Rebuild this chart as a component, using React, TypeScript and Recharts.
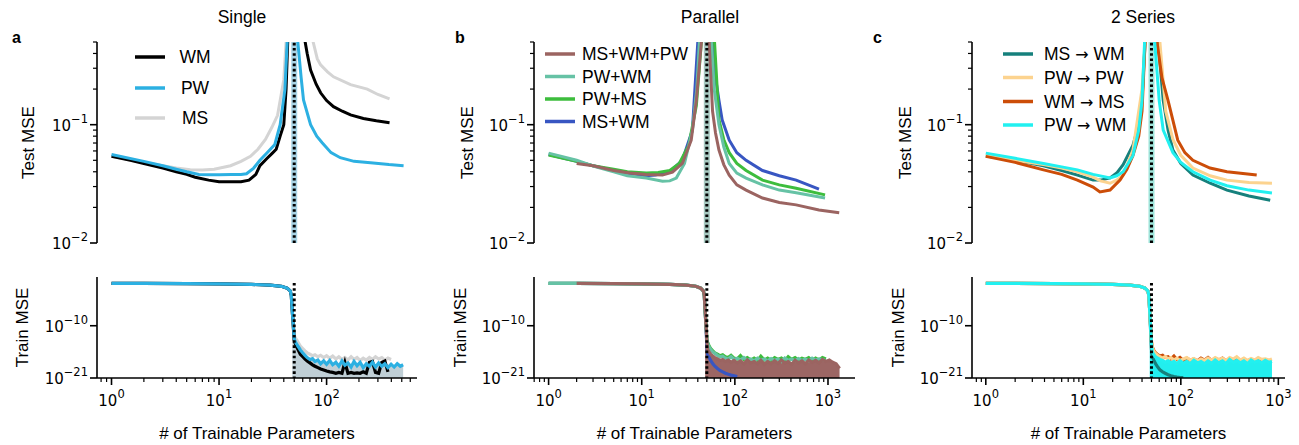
import React from "react";
import { Area, ComposedChart, Line, ReferenceLine, XAxis, YAxis } from "recharts";

type Pt = [number, number];

const FONT = '"Liberation Sans", Arial, Helvetica, sans-serif';
const MATH_FONT = '"DejaVu Sans", sans-serif';

// ---------- shared ----------
const testYTicks = [0.01, 0.02, 0.03, 0.04, 0.05, 0.06, 0.07, 0.08, 0.09, 0.1, 0.2, 0.3, 0.4, 0.5];
const trainYTicks = [1e-21, 1e-10];
const xTicksA = [0.8, 0.9, 1, 2, 3, 4, 5, 6, 7, 8, 9, 10, 20, 30, 40, 50, 60, 70, 80, 90, 100, 200, 300, 400, 500, 600];
const xTicksB = [0.7, 0.8, 0.9, 1, 2, 3, 4, 5, 6, 7, 8, 9, 10, 20, 30, 40, 50, 60, 70, 80, 90, 100, 200, 300, 400, 500, 600, 700, 800, 900, 1000];
const xTicksC = [0.8, 0.9, 1, 2, 3, 4, 5, 6, 7, 8, 9, 10, 20, 30, 40, 50, 60, 70, 80, 90, 100, 200, 300, 400, 500, 600, 700, 800, 900, 1000];
const threshold = 50;

// underparameterised part of every train curve
const trainPre: Pt[] = [[1, 0.085], [2, 0.08], [5, 0.072], [10, 0.065], [20, 0.05], [30, 0.035], [38, 0.02], [43, 0.008], [46, 0.002], [47, 2e-4], [48, 1e-7]];

// x of the train samples past the threshold
const trainXA = [50, 51, 53, 55, 57, 60, 63, 66, 70, 74, 78, 83, 88, 94, 100, 107, 114, 122, 130, 139, 148, 158, 169, 180, 192, 205, 219, 234, 250, 267, 285, 305, 326, 348, 372, 398, 425, 454, 485, 515];
const trainXB = [50, 51, 53, 55, 58, 61, 65, 69, 74, 79, 85, 91, 98, 106, 115, 125, 136, 148, 161, 175, 190, 207, 225, 245, 267, 290, 316, 344, 374, 407, 443, 482, 525, 571, 621, 676, 736, 801, 872, 949, 1033, 1124, 1223, 1331];
const trainXC = [50, 51, 53, 55, 58, 61, 65, 69, 74, 79, 85, 91, 98, 106, 115, 125, 136, 148, 161, 175, 190, 207, 225, 245, 267, 290, 316, 344, 374, 407, 443, 482, 525, 571, 621, 676, 736, 801, 860];

// ---------- a: Single ----------
const testWM_a: Pt[] = [[1, 0.054], [1.5, 0.05], [2, 0.047], [3, 0.043], [4, 0.04], [5, 0.038], [6, 0.036], [8, 0.034], [10, 0.033], [13, 0.033], [16, 0.033], [19, 0.034], [22, 0.038], [24, 0.045], [28, 0.052], [31, 0.057], [34, 0.062], [37, 0.08], [40, 0.1], [42, 0.2], [43.5, 0.5], [50, 6], [61, 0.6], [66, 0.4], [71, 0.29], [80, 0.22], [88, 0.186], [100, 0.16], [116, 0.142], [140, 0.13], [167, 0.121], [220, 0.113], [290, 0.108], [385, 0.104]];
const testPW_a: Pt[] = [[1, 0.056], [2, 0.049], [3, 0.045], [4, 0.042], [5, 0.04], [6.5, 0.038], [8, 0.0378], [10, 0.0378], [13, 0.038], [16, 0.038], [18, 0.0385], [21, 0.043], [24, 0.05], [28, 0.058], [33, 0.068], [37, 0.1], [41, 0.2], [43, 0.5], [50, 6], [54, 0.5], [58, 0.25], [61, 0.162], [71, 0.1], [81, 0.08], [91, 0.0705], [110, 0.058], [134, 0.0526], [180, 0.049], [256, 0.0477], [380, 0.046], [520, 0.045]];
const testMS_a: Pt[] = [[1, 0.054], [2, 0.048], [3, 0.045], [4, 0.043], [5.4, 0.0416], [7, 0.0415], [9, 0.042], [12.8, 0.045], [16, 0.049], [19.6, 0.054], [23, 0.062], [27, 0.075], [31, 0.095], [35, 0.12], [40, 0.24], [42, 0.5], [50, 6], [70, 0.6], [75, 0.5], [82, 0.36], [88, 0.32], [102, 0.28], [116, 0.254], [167, 0.218], [239, 0.2], [300, 0.18], [385, 0.165]];
const trainWM_a = [1e-13, 2e-14, 3e-15, 5e-16, 1e-16, 3e-17, 1e-17, 4e-18, 1.5e-18, 6e-19, 3e-19, 1.5e-19, 8e-20, 5e-20, 3e-20, 2e-20, 1.5e-20, 1e-20, 1.5e-20, 1e-20, 2e-18, 1e-20, 1.5e-20, 1e-20, 1.2e-20, 1e-20, 2e-20, 1e-20, 2e-18, 3e-18, 1.5e-20, 1e-20, 2e-18, 4e-18, 2e-20];
const trainPW_a = [2e-13, 5e-14, 1e-14, 3e-15, 8e-16, 2e-16, 6e-17, 2e-17, 8e-18, 1.2e-17, 3e-18, 6e-18, 1e-18, 4e-18, 8e-19, 5e-18, 6e-19, 2e-18, 3e-19, 4e-18, 5e-19, 1.5e-18, 2e-19, 3e-18, 4e-19, 2e-18, 1.5e-19, 1e-18, 3e-19, 2e-18, 2e-19, 1.5e-18, 3e-19, 1e-18, 1.5e-19, 8e-19, 2e-19, 1e-18, 3e-19, 6e-19];
const trainMS_a = [1e-12, 3e-13, 8e-14, 2e-14, 5e-15, 1.5e-15, 5e-16, 2e-16, 1e-16, 5e-17, 8e-17, 3e-17, 6e-17, 2e-17, 5e-17, 1.5e-17, 4e-17, 1e-17, 3e-17, 8e-18, 2e-17, 6e-18, 3e-17, 8e-18, 2e-17, 5e-18, 1.5e-17, 6e-18, 2e-17, 8e-18, 3e-17, 1e-17, 2e-17, 6e-18, 1.5e-17, 8e-18];

// ---------- b: Parallel ----------
const testMWP_b: Pt[] = [[2, 0.047], [3, 0.045], [5, 0.041], [7.4, 0.039], [11, 0.038], [16.7, 0.0375], [21.4, 0.0397], [27.3, 0.047], [34, 0.074], [38.6, 0.16], [43.7, 0.5], [50, 6], [53, 0.5], [57.6, 0.13], [62, 0.085], [67.5, 0.061], [76, 0.046], [87, 0.0375], [105, 0.031], [132, 0.028], [198, 0.024], [300, 0.022], [455, 0.021], [800, 0.019], [1320, 0.018]];
const testPWWM_b: Pt[] = [[1, 0.0575], [2, 0.05], [3.2, 0.044], [5, 0.04], [7, 0.037], [11.2, 0.0354], [16.7, 0.0333], [20, 0.0335], [23.5, 0.0354], [28.8, 0.047], [35, 0.09], [39, 0.2], [41.6, 0.5], [50, 6], [56, 0.5], [60, 0.2], [67.5, 0.1], [76, 0.065], [87, 0.047], [105, 0.039], [132, 0.0354], [198, 0.031], [300, 0.028], [455, 0.0266], [930, 0.024]];
const testPWMS_b: Pt[] = [[1, 0.0553], [2, 0.049], [3, 0.045], [5, 0.042], [7, 0.04], [11.2, 0.039], [15, 0.0395], [20, 0.041], [25.3, 0.047], [32, 0.067], [38.6, 0.145], [43.7, 0.5], [50, 6], [60.5, 0.5], [67.5, 0.11], [76, 0.075], [87, 0.058], [105, 0.047], [132, 0.041], [198, 0.034], [300, 0.031], [455, 0.029], [930, 0.0255]];
const testMSWM_b: Pt[] = [[1, 0.056], [2, 0.049], [3, 0.045], [5, 0.041], [7, 0.039], [11, 0.037], [14, 0.0375], [20, 0.04], [27.3, 0.05], [35, 0.09], [40, 0.5], [50, 6], [57.6, 0.5], [62, 0.25], [67.5, 0.16], [73, 0.11], [87, 0.074], [105, 0.058], [132, 0.05], [198, 0.041], [300, 0.037], [455, 0.034], [800, 0.0285]];
const trainMWP_b = [1e-13, 1e-15, 3e-16, 1e-16, 4e-17, 2e-17, 1e-17, 5e-18, 8e-18, 3e-18, 6e-18, 2e-18, 5e-18, 1.5e-18, 4e-18, 1e-18, 6e-18, 1.5e-18, 3e-18, 1e-18, 5e-18, 8e-19, 3e-18, 1e-18, 4e-18, 1.2e-18, 6e-18, 1.5e-18, 3e-18, 8e-19, 5e-18, 1.5e-18, 4e-18, 1e-18, 6e-18, 2e-18, 5e-18, 1.5e-18, 8e-18, 3e-18, 6e-18, 2e-18, 1e-18, 1e-19];
const trainPWWM_b = [2e-13, 2e-14, 3e-15, 1e-15, 3e-16, 1.5e-16, 6e-17, 3e-17, 4e-17, 1.5e-17, 1e-17, 3e-17, 8e-18, 1.5e-17, 6e-18, 2e-17, 5e-18, 1e-17, 4e-18, 1.5e-17, 6e-18, 1e-17, 4e-18, 1.2e-17, 5e-18, 1e-17, 3e-18, 1.5e-17, 5e-18, 1e-17, 4e-18, 1.2e-17, 5e-18, 1e-17, 4e-18, 1.5e-17, 6e-18, 1e-17, 8e-18, 5e-18];
const trainPWMS_b = [3e-13, 3e-14, 5e-15, 1.5e-15, 5e-16, 2e-16, 1e-16, 5e-17, 8e-17, 3e-17, 2e-17, 6e-17, 1.5e-17, 1e-17, 5e-17, 8e-18, 2e-17, 6e-18, 1.5e-17, 5e-18, 4e-17, 6e-18, 1.5e-17, 5e-18, 2e-17, 8e-18, 1.5e-17, 4e-18, 3e-17, 8e-18, 2e-17, 6e-18, 1.5e-17, 8e-18, 2e-17, 5e-18, 1.5e-17, 6e-18, 2e-17, 1e-17];
// visible part only: beyond ~100 it sits under the brown band
const trainMSWM_b = [1e-14, 1e-16, 2e-17, 5e-18, 1e-18, 3e-19, 1e-19, 4e-20, 2e-20, 1e-20, 6e-21, 4e-21, 3e-21, 2e-21];

// ---------- c: 2 Series ----------
const testMSWM_c: Pt[] = [[1, 0.0543], [2, 0.05], [3.9, 0.045], [6, 0.041], [8.7, 0.0375], [12.6, 0.034], [15, 0.034], [18.8, 0.0355], [22, 0.039], [25.6, 0.046], [32.3, 0.067], [37, 0.1], [40, 0.16], [43, 0.5], [50, 6], [58.5, 0.5], [66, 0.16], [74, 0.09], [83, 0.061], [100, 0.047], [133, 0.0375], [200, 0.032], [297, 0.028], [500, 0.025], [825, 0.023]];
const testPWPW_c: Pt[] = [[1, 0.056], [2, 0.05], [3.9, 0.046], [6, 0.043], [8.7, 0.04], [12.6, 0.036], [15, 0.0335], [18.8, 0.032], [22, 0.034], [25.6, 0.0375], [32.3, 0.061], [40, 0.2], [43, 0.5], [50, 6], [61, 0.5], [70, 0.13], [83, 0.075], [100, 0.055], [133, 0.043], [200, 0.037], [297, 0.034], [500, 0.0325], [860, 0.032]];
const testWMMS_c: Pt[] = [[1, 0.054], [2, 0.048], [3.9, 0.0415], [6, 0.038], [8.7, 0.034], [12.6, 0.0297], [14.8, 0.027], [18.8, 0.028], [23.8, 0.034], [28, 0.042], [32.3, 0.055], [37, 0.08], [40, 0.13], [43, 0.5], [50, 6], [57, 0.5], [64, 0.25], [74, 0.16], [93, 0.074], [110, 0.058], [133, 0.05], [199, 0.043], [297, 0.04], [600, 0.0375]];
const testPWWM_c: Pt[] = [[1, 0.0575], [2, 0.052], [3.9, 0.047], [6, 0.044], [8.7, 0.0415], [12.6, 0.038], [18.8, 0.0355], [22, 0.037], [25.6, 0.04], [32.3, 0.055], [37, 0.09], [40, 0.16], [42.5, 0.5], [50, 6], [54, 0.5], [60, 0.16], [66, 0.09], [83, 0.058], [100, 0.048], [133, 0.04], [200, 0.034], [297, 0.0305], [500, 0.028], [860, 0.0265]];
// visible part only: beyond ~100 it sits under the cyan band
const trainMSWM_c = [1e-15, 3e-17, 5e-18, 1e-18, 2e-19, 5e-20, 2e-20, 1e-20, 5e-21, 3e-21, 2e-21, 1.5e-21, 1.2e-21, 1.2e-21];
const trainPWPW_c = [3e-14, 2e-15, 4e-16, 1.5e-16, 6e-17, 3e-17, 1.5e-17, 3e-17, 1e-17, 2e-17, 6e-18, 1.5e-17, 5e-18, 1e-17, 2e-17, 6e-18, 1.2e-17, 4e-18, 1e-17, 5e-18, 1.5e-17, 6e-18, 2e-17, 8e-18, 1.5e-17, 5e-18, 2e-17, 1e-17, 3e-17, 6e-18, 1.5e-17, 5e-18, 1.2e-17, 6e-18, 2e-17, 8e-18, 1e-17, 6e-18, 1e-17];
const trainWMMS_c = [5e-14, 3e-15, 6e-16, 2e-16, 8e-17, 4e-17, 6e-17, 2e-17, 3e-17, 1e-17, 4e-17, 8e-18, 2e-17, 5e-18, 1.5e-17, 6e-18, 1e-17, 4e-18, 1.5e-17, 6e-18, 2e-17, 5e-18, 1.2e-17, 6e-18, 1.5e-17, 4e-18, 1e-17, 6e-18, 1.5e-17, 5e-18, 1e-17, 4e-18, 8e-18, 5e-18, 6e-18, 4e-18];
const trainPWWM_c = [1e-14, 3e-16, 8e-17, 3e-17, 1.5e-17, 8e-18, 5e-18, 2e-18, 4e-18, 1.5e-18, 3e-18, 1e-18, 4e-18, 1.2e-18, 3e-18, 1e-18, 5e-18, 1.5e-18, 3e-18, 1e-18, 4e-18, 1.2e-18, 6e-18, 1.5e-18, 4e-18, 1e-18, 8e-18, 2e-18, 5e-18, 1.5e-18, 4e-18, 1e-18, 6e-18, 2e-18, 4e-18, 1.5e-18, 5e-18, 2e-18, 3e-18];

const train = (ys: number[], xs: number[], fromX = 1): Pt[] => [
  ...trainPre.filter(([x]) => x >= fromX),
  ...ys.map((y, i) => [xs[i], y] as Pt),
];
const pts = (p: Pt[]) => p.map(([x, y]) => ({ x, y }));
const noisy = (p: Pt[]) => pts(p.filter(([x]) => x >= 48));

type Series = { name: string; color: string; test: Pt[]; train: Pt[] };
type Draw = { kind: "line" | "fill"; i: number };

const panels = [
  {
    letter: "a", title: "Single", titleX: 242, letterX: 12, testLabelX: 28, trainLabelX: 22,
    plotLeft: 97, plotRight: 417, xDomain: [0.733, 693], xTicks: xTicksA,
    band: "#a9d4e6", fill: "#b9cad2", fillOpacity: 0.9,
    legend: { x1: 135, x2: 165, tx: 195, anchor: "middle", ys: [57, 88, 118] },
    series: [
      { name: "WM", color: "#000000", test: testWM_a, train: train(trainWM_a, trainXA) },
      { name: "PW", color: "#2cb0e2", test: testPW_a, train: train(trainPW_a, trainXA) },
      { name: "MS", color: "#d4d4d4", test: testMS_a, train: train(trainMS_a, trainXA) },
    ] as Series[],
    topOrder: [2, 0, 1],
    bottomOrder: [{ kind: "fill", i: 1 }, { kind: "line", i: 2 }, { kind: "line", i: 0 }, { kind: "line", i: 1 }] as Draw[],
  },
  {
    letter: "b", title: "Parallel", titleX: 710, letterX: 455, testLabelX: 467, trainLabelX: 460,
    plotLeft: 534, plotRight: 855, xDomain: [0.697, 1950], xTicks: xTicksB,
    band: "#a6c8c0", fill: "#9c6664", fillOpacity: 1,
    legend: { x1: 545, x2: 575, tx: 582, anchor: "start", ys: [54, 76.5, 99, 121.5] },
    series: [
      { name: "MS+WM+PW", color: "#9b6461", test: testMWP_b, train: train(trainMWP_b, trainXB, 2) },
      { name: "PW+WM", color: "#66c2a5", test: testPWWM_b, train: train(trainPWWM_b, trainXB) },
      { name: "PW+MS", color: "#3dbd3d", test: testPWMS_b, train: train(trainPWMS_b, trainXB) },
      { name: "MS+WM", color: "#3856c2", test: testMSWM_b, train: train(trainMSWM_b, trainXB) },
    ] as Series[],
    topOrder: [3, 2, 1, 0],
    bottomOrder: [{ kind: "line", i: 3 }, { kind: "line", i: 2 }, { kind: "fill", i: 0 }, { kind: "line", i: 1 }, { kind: "line", i: 0 }] as Draw[],
  },
  {
    letter: "c", title: "2 Series", titleX: 1143, letterX: 873, testLabelX: 905, trainLabelX: 898,
    plotLeft: 972, plotRight: 1285, xDomain: [0.722, 1170], xTicks: xTicksC,
    band: "#9fe4da", fill: "#22eeee", fillOpacity: 1,
    legend: { x1: 1003, x2: 1033, tx: 1044, anchor: "start", ys: [54, 77.5, 101.5, 125] },
    series: [
      { name: "MS \u2192 WM", color: "#16807c", test: testMSWM_c, train: train(trainMSWM_c, trainXC) },
      { name: "PW \u2192 PW", color: "#fcd38f", test: testPWPW_c, train: train(trainPWPW_c, trainXC) },
      { name: "WM \u2192 MS", color: "#cc4d08", test: testWMMS_c, train: train(trainWMMS_c, trainXC) },
      { name: "PW \u2192 WM", color: "#22f0f0", test: testPWWM_c, train: train(trainPWWM_c, trainXC) },
    ] as Series[],
    topOrder: [0, 1, 2, 3],
    bottomOrder: [{ kind: "fill", i: 3 }, { kind: "line", i: 0 }, { kind: "line", i: 2 }, { kind: "line", i: 1 }, { kind: "line", i: 3 }] as Draw[],
  },
];

// ---------- layout ----------
const YW = 62;
const MR = 16;
const PAD = 10;
const TOP_Y = 42;
const TOP_H = 201;
const BOT_Y = 277;
const BOT_H = 101;
const XH = 40;
const AXIS = { stroke: "#000", strokeWidth: 1.6 };
const TICK_FS = 15;
const SUP_FS = 11.5;

const sup = (e: number) => (e < 0 ? `\u2212${-e}` : `${e}`);
const isMajor = (v: number) => {
  const e = Math.log10(v);
  return Math.abs(e - Math.round(e)) < 1e-6;
};

const renderXTick = (props: any) => {
  const { x, y, payload } = props;
  const v = payload.value;
  const major = isMajor(v);
  return (
    <g>
      <line x1={x} x2={x} y1={y} y2={y + (major ? 7 : 4)} stroke="#000" strokeWidth={major ? 1.6 : 1.2} />
      {major && (
        <text x={x} y={y + 28} textAnchor="middle" fontFamily={MATH_FONT} fontSize={TICK_FS} fill="#000">
          <tspan>10</tspan>
          <tspan dy={-8} fontSize={SUP_FS}>{sup(Math.round(Math.log10(v)))}</tspan>
        </text>
      )}
    </g>
  );
};

const renderYTick = (props: any) => {
  const { x, y, payload } = props;
  const v = payload.value;
  const major = isMajor(v);
  return (
    <g>
      <line x1={x - (major ? 7 : 4)} x2={x} y1={y} y2={y} stroke="#000" strokeWidth={major ? 1.6 : 1.2} />
      {major && (
        <text x={x - 9} y={y + 6} textAnchor="end" fontFamily={MATH_FONT} fontSize={TICK_FS} fill="#000">
          <tspan>10</tspan>
          <tspan dy={-8} fontSize={SUP_FS}>{sup(Math.round(Math.log10(v)))}</tspan>
        </text>
      )}
    </g>
  );
};

function TestChart({ p }: { p: (typeof panels)[number] }) {
  const left = p.plotLeft - YW;
  const width = p.plotRight - left + MR;
  const height = TOP_H + 2 * PAD;
  return (
    <div style={{ position: "absolute", left, top: TOP_Y - PAD, width, height }}>
      <ComposedChart width={width} height={height} margin={{ top: PAD, right: MR, bottom: PAD, left: 0 }}>
        <XAxis type="number" dataKey="x" scale="log" domain={p.xDomain} allowDataOverflow hide />
        <YAxis type="number" scale="log" domain={[0.01, 0.5]} allowDataOverflow ticks={testYTicks} interval={0}
          width={YW} tickLine={false} tickSize={0} tickMargin={0} axisLine={AXIS} tick={renderYTick} />
        <ReferenceLine x={threshold} stroke={p.band} strokeWidth={6} />
        {p.topOrder.map((i) => {
          const s = p.series[i];
          return (
            <Line key={s.name} name={s.name} data={pts(s.test)} dataKey="y" type="linear" stroke={s.color}
              strokeWidth={3} dot={false} isAnimationActive={false} />
          );
        })}
        <ReferenceLine x={threshold} stroke="#000" strokeWidth={3} strokeDasharray="2.6 2.6" />
      </ComposedChart>
    </div>
  );
}

function TrainChart({ p }: { p: (typeof panels)[number] }) {
  const left = p.plotLeft - YW;
  const width = p.plotRight - left + MR;
  const height = PAD + BOT_H + XH;
  return (
    <div style={{ position: "absolute", left, top: BOT_Y - PAD, width, height }}>
      <ComposedChart width={width} height={height} margin={{ top: PAD, right: MR, bottom: 0, left: 0 }}>
        <XAxis type="number" dataKey="x" scale="log" domain={p.xDomain} allowDataOverflow ticks={p.xTicks}
          interval={0} height={XH} tickLine={false} tickSize={0} tickMargin={0} axisLine={AXIS} tick={renderXTick} />
        <YAxis type="number" scale="log" domain={[1e-21, 1.8]} allowDataOverflow ticks={trainYTicks} interval={0}
          width={YW} tickLine={false} tickSize={0} tickMargin={0} axisLine={AXIS} tick={renderYTick} />
        {p.bottomOrder.map((d) => {
          const s = p.series[d.i];
          if (d.kind === "fill") {
            return (
              <Area key={`fill-${s.name}`} name={`${s.name} band`} data={noisy(s.train)} dataKey="y" type="linear"
                stroke="none" fill={p.fill} fillOpacity={p.fillOpacity} baseValue="dataMin" isAnimationActive={false} />
            );
          }
          return (
            <Line key={s.name} name={s.name} data={pts(s.train)} dataKey="y" type="linear" stroke={s.color}
              strokeWidth={3.2} dot={false} isAnimationActive={false} />
          );
        })}
        <ReferenceLine segment={[{ x: threshold, y: 0.1 }, { x: threshold, y: 1e-21 }]} stroke="#000"
          strokeWidth={3} strokeDasharray="2.6 2.6" />
      </ComposedChart>
    </div>
  );
}

// legend label; the arrow is set in DejaVu, like matplotlib's mathtext arrow
function LegendLabel({ name }: { name: string }) {
  const parts = name.split("\u2192");
  if (parts.length === 1) return <>{name}</>;
  return (
    <>
      <tspan>{parts[0]}</tspan>
      <tspan fontFamily={MATH_FONT} fontSize={16}>{"\u2192"}</tspan>
      <tspan>{parts[1]}</tspan>
    </>
  );
}

function Overlay() {
  return (
    <svg width={1299} height={445} style={{ position: "absolute", left: 0, top: 0, pointerEvents: "none" }}
      fontFamily={FONT}>
      {panels.map((p) => {
        const cx = (p.plotLeft + p.plotRight) / 2;
        return (
          <g key={p.letter}>
            <text x={p.titleX} y={23} textAnchor="middle" fontSize={17.5} fill="#000">{p.title}</text>
            <text x={p.letterX} y={43} fontSize={16} fontWeight="bold" fill="#000">{p.letter}</text>
            <text x={p.testLabelX} y={142.5} textAnchor="middle" dominantBaseline="central" fontSize={17}
              transform={`rotate(-90 ${p.testLabelX} 142.5)`} fill="#000">Test MSE</text>
            <text x={p.trainLabelX} y={327.5} textAnchor="middle" dominantBaseline="central" fontSize={17}
              transform={`rotate(-90 ${p.trainLabelX} 327.5)`} fill="#000">Train MSE</text>
            <text x={cx} y={439} textAnchor="middle" fontSize={17} fill="#000"># of Trainable Parameters</text>
            {p.series.map((s, i) => (
              <g key={s.name}>
                <line x1={p.legend.x1} x2={p.legend.x2} y1={p.legend.ys[i]} y2={p.legend.ys[i]} stroke={s.color}
                  strokeWidth={3.5} />
                <text x={p.legend.tx} y={p.legend.ys[i]} dominantBaseline="central" textAnchor={p.legend.anchor as any}
                  fontSize={17.5} fill="#000"><LegendLabel name={s.name} /></text>
              </g>
            ))}
          </g>
        );
      })}
    </svg>
  );
}

export default function App() {
  return (
    <div style={{ position: "absolute", left: 0, top: 0, width: 1299, height: 445, background: "#fff", fontFamily: FONT }}>
      {panels.map((p) => (
        <React.Fragment key={p.letter}>
          <TestChart p={p} />
          <TrainChart p={p} />
        </React.Fragment>
      ))}
      <Overlay />
    </div>
  );
}
